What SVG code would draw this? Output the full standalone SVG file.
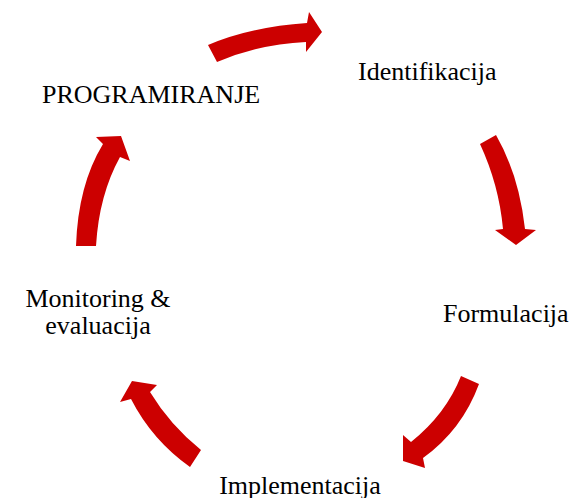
<svg xmlns="http://www.w3.org/2000/svg" width="573" height="498" viewBox="0 0 573 498">
<style>
.arr{fill:#cc0000;stroke:none}
text{font-family:'Liberation Serif','Times New Roman',Times,serif;font-size:26px;fill:#000}
</style>
<rect width="573" height="498" fill="#fff"/>
<g id="connectors">
<path class="arr" d="M208,45 Q250,27 307,23 L309,12 L322,32 L306,52 L306,42 Q260,44 217,62 Z"/>
<path class="arr" d="M480,144 L496,135 Q519,175 525,229 L536,230 L516,245 L495,230 L503,229 Q499,185 480,144 Z"/>
<path class="arr" d="M461,376 L479,384 Q462,430 423,458 L425,468 L403,461 L403,435 L411,442 Q446,414 461,376 Z"/>
<path class="arr" d="M190,467 Q152,440 131,399 L120,402 L132,381 L157,385 L150,392 Q170,425 201,450 Z"/>
<path class="arr" d="M76,246 Q78,185 103,144 L96,137 L121,136 L130,161 L120,157 Q99,195 96,246 Z"/>
</g>
<g id="node-identifikacija"><text font-family="Liberation Serif, serif" x="358" y="80">Identifikacija</text></g>
<g id="node-formulacija"><text font-family="Liberation Serif, serif" x="443" y="322">Formulacija</text></g>
<g id="node-implementacija"><text font-family="Liberation Serif, serif" x="300" y="494" text-anchor="middle">Implementacija</text></g>
<g id="node-monitoring"><text font-family="Liberation Serif, serif" x="98" y="307" text-anchor="middle">Monitoring &amp;</text><text font-family="Liberation Serif, serif" x="98" y="334" text-anchor="middle">evaluacija</text></g>
<g id="node-programiranje"><text font-family="Liberation Serif, serif" x="42" y="103">PROGRAMIRANJE</text></g>
</svg>
